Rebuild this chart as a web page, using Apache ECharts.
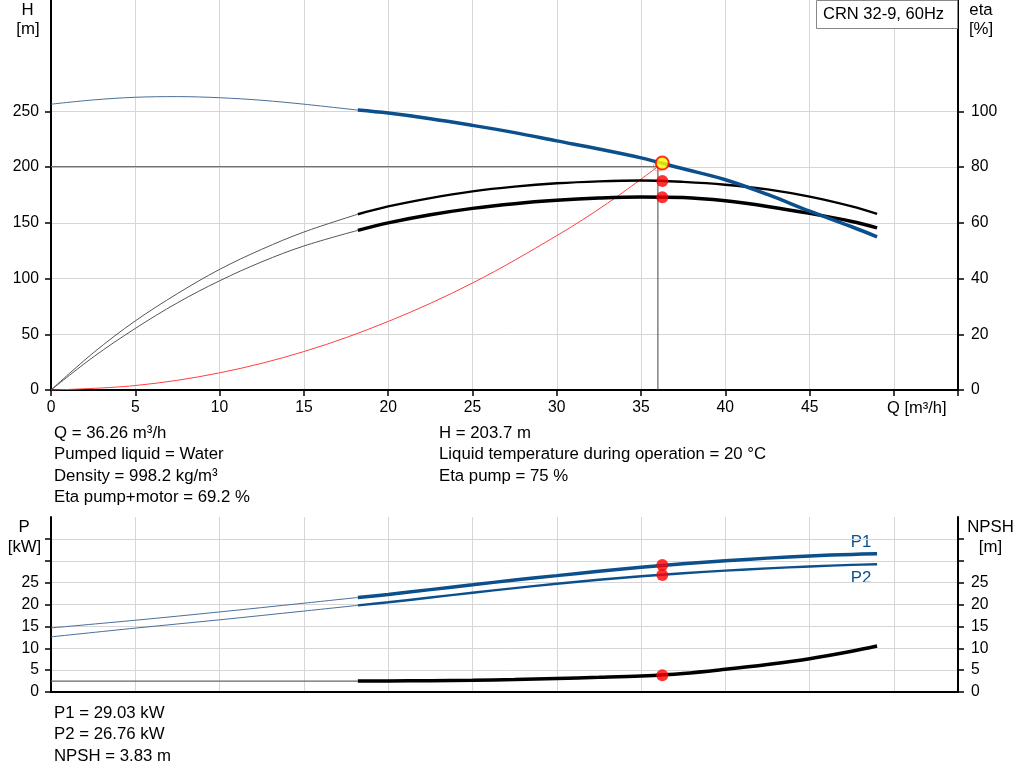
<!DOCTYPE html>
<html><head><meta charset="utf-8">
<script src="https://cdn.jsdelivr.net/npm/echarts@6/dist/echarts.min.js"></script>
<style>html,body{margin:0;padding:0;background:#fff}#c{width:1024px;height:781px}</style>
</head><body><div id="c"></div>
<script>
// ---- data ----
const qThin = [0, 2.5, 5, 7.5, 10, 12.5, 15, 18.2];
const qThick = [18.2, 20, 22.5, 25, 27.5, 30, 32.5, 35, 37.5, 40, 42.5, 45, 47.5, 49];

const headThin = [256.5, 260.3, 262.7, 263.3, 262.3, 260, 256.5, 251.2];
const headThick = [251.2, 248.5, 243.5, 237.5, 231, 223.6, 216.3, 208.3, 198.5, 188.7, 175.5, 160.5, 146.5, 137.5];

const etaPumpThin = [0, 13.3, 24.8, 34.6, 43.3, 50.5, 56.7, 63.1];
const etaPumpThick = [63.1, 65.9, 68.9, 71.3, 73.0, 74.2, 74.9, 75.2, 74.7, 73.7, 72.0, 69.4, 65.9, 63.2];

const etaTotThin = [0, 11.8, 22.1, 31.3, 39.2, 46, 51.7, 57.3];
const etaTotThick = [57.3, 60, 62.9, 65.2, 66.9, 68.1, 68.9, 69.3, 69.1, 67.9, 65.9, 63.4, 60.5, 58.2];

const sysQ = [0, 5, 10, 15, 20, 25, 30, 33, 36.0];
const sysH = [0, 4, 15.4, 34.5, 61.5, 96, 138.5, 167.5, 200.5];

const qPThin = [0, 5, 10, 15, 18.2];
const p1Thin = [14.65, 16.4, 18.3, 20.3, 21.6];
const p1Thick = [21.6, 22.3, 23.4, 24.5, 25.6, 26.6, 27.6, 28.5, 29.3, 30.0, 30.6, 31.1, 31.45, 31.6];
const p2Thin = [12.6, 14.6, 16.5, 18.5, 19.8];
const p2Thick = [19.8, 20.5, 21.6, 22.7, 23.75, 24.75, 25.65, 26.45, 27.15, 27.75, 28.25, 28.7, 29.05, 29.2];

const qNpshThin = [0, 18.2];
const npshThin = [2.5, 2.5];
const npshThick = [2.5, 2.52, 2.58, 2.68, 2.85, 3.08, 3.35, 3.68, 4.25, 5.2, 6.3, 7.6, 9.3, 10.5];

const opQ = 36.26, opH = 203.7, opEtaPump = 75, opEtaTot = 69.2;
const opP1 = 29.03, opP2 = 26.76, opNpsh = 3.83;
const refQ = 36.0, refH = 200.5;

const hTicks = [0, 50, 100, 150, 200, 250];
const etaTicks = [0, 20, 40, 60, 80, 100];
const pTicks = [0, 5, 10, 15, 20, 25, 30, 35];

const infoLeft = ['Q = 36.26 m³/h', 'Pumped liquid = Water', 'Density = 998.2 kg/m³', 'Eta pump+motor = 69.2 %'];
const infoRight = ['H = 203.7 m', 'Liquid temperature during operation = 20 °C', 'Eta pump = 75 %'];
const infoBottom = ['P1 = 29.03 kW', 'P2 = 26.76 kW', 'NPSH = 3.83 m'];

// ---- chart ----
const FONT = "'Liberation Sans', Arial, sans-serif";
const BLUE = '#0b4f8c';
const zip = (a, b) => a.map((x, i) => [x, b[i]]);
const chart = echarts.init(document.getElementById('c'), null, {renderer: 'canvas'});

const gridLine = {show: true, lineStyle: {color: '#d6d6d6', width: 1}};
const axLine = {show: true, onZero: false, lineStyle: {color: '#000', width: 2}};
const tick = {show: true, length: 6, lineStyle: {color: '#000', width: 1.5}};
const tickAt = vals => Object.assign({}, tick, {customValues: vals});
const lbl = (fmt, margin) => ({fontSize: 15.7, color: '#000', fontFamily: FONT, margin: margin, formatter: fmt});

function line(data, opts) {
  return Object.assign({type: 'line', data: data, showSymbol: false, symbol: 'none', smooth: 0.35,
    animation: false, silent: true}, opts);
}

const texts = [];
function txt(x, y, s, o) {
  texts.push(Object.assign({type: 'text', x: x, y: y, style: Object.assign({text: s, fill: '#000',
    font: '16.8px ' + FONT, textAlign: 'left', textVerticalAlign: 'middle'}, o || {})}));
}
infoLeft.forEach((s, i) => txt(54, 433.5 + i * 21.3, s));
infoRight.forEach((s, i) => txt(439, 433.5 + i * 21.3, s));
infoBottom.forEach((s, i) => txt(54, 713.5 + i * 21.3, s));
txt(27.5, 10, 'H', {textAlign: 'center'});
txt(28, 29, '[m]', {textAlign: 'center'});
txt(981, 10, 'eta', {textAlign: 'center'});
txt(981, 29, '[%]', {textAlign: 'center'});
txt(24, 527, 'P', {textAlign: 'center'});
txt(24.5, 547, '[kW]', {textAlign: 'center'});
txt(990.5, 527, 'NPSH', {textAlign: 'center'});
txt(990.5, 547, '[m]', {textAlign: 'center'});
txt(861, 542.5, 'P1', {textAlign: 'center', fill: BLUE});
txt(861, 578, 'P2', {textAlign: 'center', fill: BLUE});
txt(887, 408, 'Q [m³/h]', {font: '16.5px ' + FONT});

const option = {
  animation: false,
  backgroundColor: '#fff',
  grid: [
    {left: 51, right: 66, top: 0, height: 390},
    {left: 51, right: 66, top: 517, height: 175}
  ],
  xAxis: [
    {type: 'value', gridIndex: 0, min: 0, max: 53.8, interval: 5, axisLine: axLine, axisTick: tick,
      splitLine: gridLine, axisLabel: lbl(v => v < 50 ? String(v) : '', 10)},
    {type: 'value', gridIndex: 1, min: 0, max: 53.8, interval: 5, axisLine: axLine, axisTick: {show: false},
      splitLine: gridLine, axisLabel: {show: false}}
  ],
  yAxis: [
    {type: 'value', gridIndex: 0, position: 'left', min: 0, max: 350, interval: 50, axisLine: axLine,
      axisTick: tickAt(hTicks), splitLine: gridLine, axisLabel: lbl(v => v <= 250 ? String(v) : '', 12)},
    {type: 'value', gridIndex: 0, position: 'right', min: 0, max: 140, interval: 20, axisLine: axLine,
      axisTick: tickAt(etaTicks), splitLine: {show: false}, axisLabel: lbl(v => v <= 100 ? String(v) : '', 13)},
    {type: 'value', gridIndex: 1, position: 'left', min: 0, max: 40, interval: 5, axisLine: axLine,
      axisTick: tickAt(pTicks), splitLine: gridLine, axisLabel: lbl(v => v <= 25 ? String(v) : '', 12)},
    {type: 'value', gridIndex: 1, position: 'right', min: 0, max: 40, interval: 5, axisLine: axLine,
      axisTick: tickAt(pTicks), splitLine: {show: false}, axisLabel: lbl(v => v <= 25 ? String(v) : '', 13)}
  ],
  series: [
    // operating-point reference lines
    line([[0, refH], [refQ, refH]], {xAxisIndex: 0, yAxisIndex: 0, smooth: false, lineStyle: {color: '#707070', width: 1.3}, z: 3}),
    line([[refQ, refH], [refQ, 0]], {xAxisIndex: 0, yAxisIndex: 0, smooth: false, lineStyle: {color: '#444', width: 1}, z: 3}),
    // system curve
    line(zip(sysQ, sysH), {xAxisIndex: 0, yAxisIndex: 0, lineStyle: {color: '#ff4040', width: 1}, z: 4}),
    // head
    line(zip(qThin, headThin), {xAxisIndex: 0, yAxisIndex: 0, lineStyle: {color: '#4a6f9a', width: 1}, z: 5}),
    line(zip(qThick, headThick), {xAxisIndex: 0, yAxisIndex: 0, lineStyle: {color: BLUE, width: 3.5}, z: 6}),
    // efficiencies
    line(zip(qThin, etaPumpThin), {xAxisIndex: 0, yAxisIndex: 1, lineStyle: {color: '#555', width: 1}, z: 5}),
    line(zip(qThick, etaPumpThick), {xAxisIndex: 0, yAxisIndex: 1, lineStyle: {color: '#000', width: 2.4}, z: 5}),
    line(zip(qThin, etaTotThin), {xAxisIndex: 0, yAxisIndex: 1, lineStyle: {color: '#555', width: 1}, z: 5}),
    line(zip(qThick, etaTotThick), {xAxisIndex: 0, yAxisIndex: 1, lineStyle: {color: '#000', width: 3.5}, z: 5}),
    // markers top
    {type: 'scatter', xAxisIndex: 0, yAxisIndex: 0, data: [[refQ, refH]], symbol: 'circle', symbolSize: 9,
      itemStyle: {color: 'rgba(0,0,0,0)', borderColor: '#ff7070', borderWidth: 1}, z: 9, silent: true},
    {type: 'scatter', xAxisIndex: 0, yAxisIndex: 1, data: [[opQ, opEtaPump], [opQ, opEtaTot]], symbol: 'circle',
      symbolSize: 12, itemStyle: {color: '#ff0000'}, z: 10, silent: true},
    {type: 'scatter', xAxisIndex: 0, yAxisIndex: 0, data: [[opQ, opH]], symbol: 'circle', symbolSize: 13,
      itemStyle: {color: '#ffff00', borderColor: '#ff0000', borderWidth: 2}, z: 11, silent: true},
    // power
    line(zip(qPThin, p1Thin), {xAxisIndex: 1, yAxisIndex: 2, lineStyle: {color: '#4a6f9a', width: 1}, z: 5}),
    line(zip(qThick, p1Thick), {xAxisIndex: 1, yAxisIndex: 2, lineStyle: {color: BLUE, width: 3.5}, z: 5}),
    line(zip(qPThin, p2Thin), {xAxisIndex: 1, yAxisIndex: 2, lineStyle: {color: '#4a6f9a', width: 1}, z: 5}),
    line(zip(qThick, p2Thick), {xAxisIndex: 1, yAxisIndex: 2, lineStyle: {color: BLUE, width: 2.4}, z: 5}),
    // npsh
    line(zip(qNpshThin, npshThin), {xAxisIndex: 1, yAxisIndex: 3, smooth: false, lineStyle: {color: '#666', width: 1.2}, z: 5}),
    line(zip(qThick, npshThick), {xAxisIndex: 1, yAxisIndex: 3, lineStyle: {color: '#000', width: 3.5}, z: 5}),
    // markers bottom
    {type: 'scatter', xAxisIndex: 1, yAxisIndex: 2, data: [[opQ, opP1], [opQ, opP2]], symbol: 'circle',
      symbolSize: 12, itemStyle: {color: '#ff0000'}, z: 10, silent: true},
    {type: 'scatter', xAxisIndex: 1, yAxisIndex: 3, data: [[opQ, opNpsh]], symbol: 'circle',
      symbolSize: 12, itemStyle: {color: '#ff0000'}, z: 10, silent: true}
  ],
  graphic: [
    {type: 'rect', shape: {x: 816.5, y: 0.5, width: 141, height: 28}, style: {fill: '#fff', stroke: '#888', lineWidth: 1}, z: 100},
    {type: 'text', x: 823, y: 14, z: 101, style: {text: 'CRN 32-9, 60Hz', fill: '#000', font: '16.5px ' + FONT, textVerticalAlign: 'middle'}}
  ].concat(texts)
};
chart.setOption(option);
</script>
</body></html>
